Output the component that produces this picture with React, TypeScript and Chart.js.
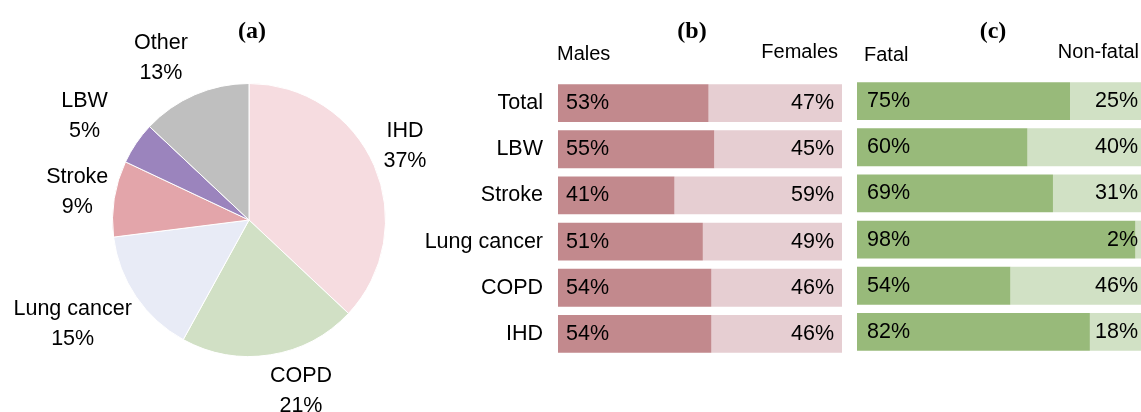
import React, { useEffect, useRef } from "react";
import { Chart, registerables } from "chart.js";

Chart.register(...registerables);

const FONT = '"Liberation Sans", Arial, sans-serif';
const SERIF = '"Liberation Serif", "Times New Roman", serif';
const FS = 21.5;

// Panel (a)
const pieLabels = ["IHD", "COPD", "Lung cancer", "Stroke", "LBW", "Other"];
const pieValues = [37, 21, 15, 9, 5, 13];
const pieColors = ["#F6DCE0", "#D1E0C5", "#E8EBF6", "#E3A5AA", "#9B84BD", "#BFBFBF"];

// Panels (b) and (c)
const barCategories = ["Total", "LBW", "Stroke", "Lung cancer", "COPD", "IHD"];
const malesPct = [53, 55, 41, 51, 54, 54];
const femalesPct = [47, 45, 59, 49, 46, 46];
const fatalPct = [75, 60, 69, 98, 54, 82];
const nonFatalPct = [25, 40, 31, 2, 46, 18];

const pieNudges: [number, number][] = [[0, -4], [-2, -3], [4, 5], [4, 0], [-20, -5], [-3, 0]];

const pieLabelPlugin = {
  id: "pieLabels",
  afterDatasetsDraw(chart: any) {
    const ctx = chart.ctx;
    const meta = chart.getDatasetMeta(0);
    ctx.save();
    ctx.font = `${FS}px ${FONT}`;
    ctx.fillStyle = "#000";
    ctx.textAlign = "center";
    ctx.textBaseline = "middle";
    meta.data.forEach((arc: any, i: number) => {
      const { x, y, startAngle, endAngle, outerRadius } = arc.getProps(
        ["x", "y", "startAngle", "endAngle", "outerRadius"],
        true
      );
      const mid = (startAngle + endAngle) / 2;
      const r = outerRadius + 10;
      const ax = x + Math.cos(mid) * r;
      const ay = y + Math.sin(mid) * r;
      const lines = [pieLabels[i], pieValues[i] + "%"];
      const w = Math.max(...lines.map((l) => ctx.measureText(l).width));
      const lh = 30;
      const h = lh * 2;
      const c = Math.cos(mid);
      const cx = ax + (w / 2) * (Math.abs(c) < 1e-6 ? 0 : Math.sign(c)) + pieNudges[i][0];
      const cy = ay + (h / 2) * Math.sin(mid) + pieNudges[i][1];
      ctx.fillText(lines[0], cx, cy - lh / 2);
      ctx.fillText(lines[1], cx, cy + lh / 2);
    });
    ctx.font = `bold 24px ${SERIF}`;
    ctx.fillText("(a)", 252, 32);
    ctx.restore();
  },
};

function PiePanel() {
  const ref = useRef<HTMLCanvasElement>(null);
  useEffect(() => {
    if (!ref.current) return;
    const chart = new Chart(ref.current, {
      type: "pie",
      data: {
        labels: pieLabels,
        datasets: [
          {
            data: pieValues,
            backgroundColor: pieColors,
            borderColor: "#ffffff",
            borderWidth: 1,
          },
        ],
      },
      options: {
        responsive: false,
        animation: false,
        layout: { padding: { left: 112, right: 54, top: 83, bottom: 55 } },
        plugins: { legend: { display: false }, tooltip: { enabled: false } },
      },
      plugins: [pieLabelPlugin],
    });
    return () => chart.destroy();
  }, []);
  return (
    <canvas
      ref={ref}
      width={440}
      height={412}
      style={{ position: "absolute", left: 0, top: 0, width: 440, height: 412 }}
    />
  );
}

type Header = { text: string; x: number; y: number; align: CanvasTextAlign; bold?: boolean };

interface BarProps {
  left: number;
  width: number;
  padTop: number;
  padBottom: number;
  padLeft: number;
  padRight: number;
  showY: boolean;
  first: number[];
  second: number[];
  firstName: string;
  secondName: string;
  colors: [string, string];
  headers: Header[];
  leftPad: number;
  rightPad: number;
}

function BarPanel(p: BarProps) {
  const ref = useRef<HTMLCanvasElement>(null);
  useEffect(() => {
    if (!ref.current) return;
    const valuePlugin = {
      id: "barValues",
      afterDatasetsDraw(chart: any) {
        const ctx = chart.ctx;
        ctx.save();
        ctx.font = `${FS}px ${FONT}`;
        ctx.fillStyle = "#000";
        ctx.textBaseline = "middle";
        chart.data.datasets.forEach((ds: any, di: number) => {
          const meta = chart.getDatasetMeta(di);
          meta.data.forEach((bar: any, i: number) => {
            const { x, y, base } = bar.getProps(["x", "y", "base"], true);
            const txt = ds.data[i] + "%";
            if (di === 0) {
              ctx.textAlign = "left";
              ctx.fillText(txt, base + p.leftPad, y);
            } else {
              ctx.textAlign = "right";
              ctx.fillText(txt, x - p.rightPad, y);
            }
          });
        });
        p.headers.forEach((h) => {
          ctx.font = h.bold ? `bold 24px ${SERIF}` : `20px ${FONT}`;
          ctx.textAlign = h.align;
          ctx.fillText(h.text, h.x - p.left, h.y);
        });
        ctx.restore();
      },
    };
    const chart = new Chart(ref.current, {
      type: "bar",
      data: {
        labels: barCategories,
        datasets: [
          {
            label: p.firstName,
            data: p.first,
            backgroundColor: p.colors[0],
            categoryPercentage: 1,
            barPercentage: 0.82,
          },
          {
            label: p.secondName,
            data: p.second,
            backgroundColor: p.colors[1],
            categoryPercentage: 1,
            barPercentage: 0.82,
          },
        ],
      },
      options: {
        indexAxis: "y",
        responsive: false,
        animation: false,
        layout: {
          padding: { left: p.padLeft, right: p.padRight, top: p.padTop, bottom: p.padBottom },
        },
        scales: {
          x: { stacked: true, display: false, min: 0, max: 100 },
          y: {
            stacked: true,
            display: p.showY,
            grid: { display: false, drawTicks: false },
            border: { display: false },
            ticks: { font: { size: FS, family: FONT }, color: "#000", padding: 15 },
            afterFit: (s: any) => {
              if (p.showY) s.width = 158;
            },
          },
        },
        plugins: { legend: { display: false }, tooltip: { enabled: false } },
      },
      plugins: [valuePlugin],
    });
    return () => chart.destroy();
  }, []);
  return (
    <canvas
      ref={ref}
      width={p.width}
      height={412}
      style={{ position: "absolute", left: p.left, top: 0, width: p.width, height: 412 }}
    />
  );
}

export default function App() {
  return (
    <div
      style={{
        position: "absolute",
        left: 0,
        top: 0,
        width: 1141,
        height: 412,
        background: "#ffffff",
        overflow: "hidden",
      }}
    >
      <PiePanel />
      <BarPanel
        left={400}
        width={450}
        padTop={80}
        padBottom={55}
        padLeft={0}
        padRight={8}
        showY={true}
        first={malesPct}
        second={femalesPct}
        firstName="Males"
        secondName="Females"
        colors={["#C2898D", "#E6CED2"]}
        headers={[
          { text: "(b)", x: 692, y: 32, align: "center", bold: true },
          { text: "Males", x: 557, y: 54, align: "left" },
          { text: "Females", x: 838, y: 52, align: "right" },
        ]}
        leftPad={8}
        rightPad={8}
      />
      <BarPanel
        left={850}
        width={291}
        padTop={78}
        padBottom={57}
        padLeft={7}
        padRight={0}
        showY={false}
        first={fatalPct}
        second={nonFatalPct}
        firstName="Fatal"
        secondName="Non-fatal"
        colors={["#98BA7A", "#D1E1C5"]}
        headers={[
          { text: "(c)", x: 993, y: 32, align: "center", bold: true },
          { text: "Fatal", x: 864, y: 55, align: "left" },
          { text: "Non-fatal", x: 1139, y: 52, align: "right" },
        ]}
        leftPad={10}
        rightPad={3}
      />
    </div>
  );
}
